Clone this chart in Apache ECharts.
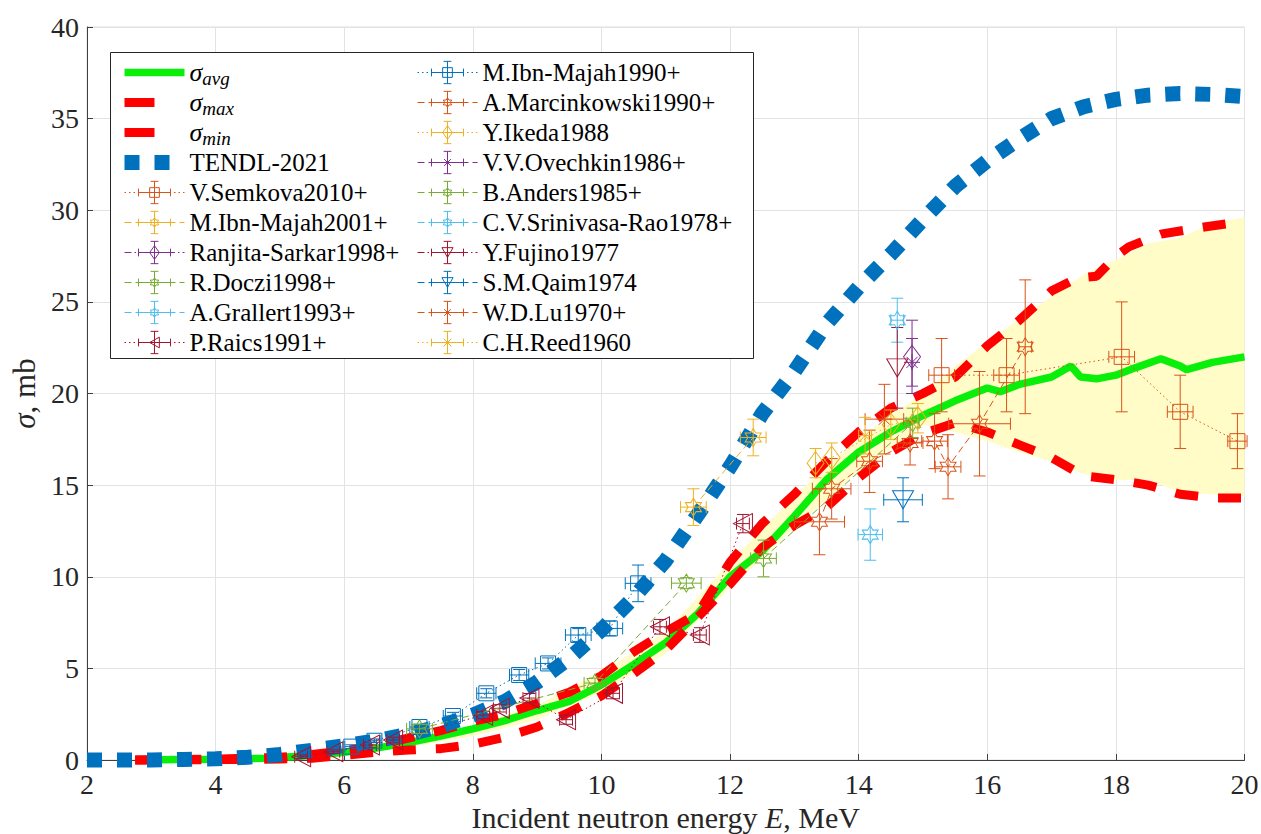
<!DOCTYPE html>
<html>
<head>
<meta charset="utf-8">
<script src="https://cdn.jsdelivr.net/npm/echarts@6/dist/echarts.min.js"></script>
<style>
  html, body { margin: 0; padding: 0; background: #fff; }
  #chart { width: 1261px; height: 834px; }
</style>
</head>
<body>
<div id="chart"></div>
<script>
// ---- evaluated curves (E in MeV, sigma in mb) ----
const avgE = [2.75, 3, 4, 4.8, 5.5, 6, 6.5, 7, 7.5, 8, 8.5, 9, 9.5, 10, 10.5, 11, 11.5, 12, 12.5, 13, 13.5, 14, 14.5, 15, 15.5, 16, 16.2, 16.5, 17, 17.3, 17.45, 17.7, 18, 18.3, 18.7, 19, 19.1, 19.5, 20];
const avgS = [0, 0.01, 0.04, 0.1, 0.25, 0.42, 0.65, 0.95, 1.3, 1.7, 2.15, 2.7, 3.2, 4.1, 5.2, 6.4, 8.0, 10.0, 11.4, 13.3, 15.3, 16.8, 17.9, 18.8, 19.6, 20.3, 20.1, 20.5, 20.9, 21.5, 20.9, 20.8, 21.0, 21.4, 21.9, 21.5, 21.3, 21.7, 22.0];

const maxE = [2.75, 4, 5, 5.5, 6, 6.5, 7, 7.5, 8, 8.5, 9, 9.5, 10, 10.5, 11, 11.5, 12, 12.5, 13, 13.5, 14, 14.5, 15, 15.5, 16, 16.5, 17, 17.4, 17.7, 18, 18.2, 18.7, 19.4, 20];
const maxS = [0, 0.05, 0.15, 0.3, 0.5, 0.8, 1.2, 1.6, 2.1, 2.5, 3.1, 3.7, 4.6, 5.9, 7.0, 8.0, 10.8, 12.9, 14.5, 16.3, 17.9, 19.2, 20.0, 20.9, 22.6, 24.0, 25.6, 26.3, 26.4, 27.5, 28.0, 28.7, 29.1, 29.4];

const minE = [2.75, 4, 5, 5.5, 6, 6.5, 7, 7.5, 8, 8.5, 9, 9.5, 10, 10.5, 11, 11.5, 12, 12.5, 13, 13.5, 14, 14.5, 15, 15.5, 16, 16.5, 17, 17.5, 18, 18.5, 19, 19.5, 20];
const minS = [0, 0.02, 0.05, 0.1, 0.25, 0.42, 0.55, 0.62, 0.85, 1.25, 1.8, 2.6, 3.5, 4.7, 6.0, 7.8, 9.6, 11.6, 12.8, 13.8, 15.4, 16.8, 17.8, 18.4, 17.9, 17.2, 16.5, 15.5, 15.3, 15.0, 14.5, 14.3, 14.3];

const bandE = [2.75, 4, 5, 6, 7, 8, 9, 10, 11, 12, 12.5, 13, 13.5, 14, 14.5, 15, 15.5, 16, 16.5, 17, 17.5, 18, 18.5, 19, 19.5, 20];
const bandLo = [0, 0.02, 0.05, 0.3, 0.7, 1.3, 2.2, 3.7, 5.8, 9.4, 11.0, 12.7, 14.2, 15.8, 17.0, 18.3, 17.9, 17.4, 16.8, 16.3, 15.6, 15.3, 15.3, 14.6, 14.5, 14.4];
const bandHi = [0, 0.06, 0.2, 0.55, 1.1, 1.9, 3.0, 4.8, 7.0, 10.8, 12.6, 14.4, 16.0, 17.5, 18.8, 20.0, 21.5, 22.8, 24.1, 25.3, 26.5, 27.3, 28.2, 28.5, 29.3, 29.6];

const tendlE = [2, 2.5, 3, 3.5, 4, 4.5, 5, 5.5, 6, 6.5, 7, 7.5, 8, 8.5, 9, 9.5, 10, 10.5, 11, 11.5, 12, 12.5, 13, 13.5, 14, 14.5, 15, 15.5, 16, 16.5, 17, 17.5, 18, 18.5, 19, 19.5, 20];
const tendlS = [0, 0, 0, 0.03, 0.07, 0.15, 0.3, 0.53, 0.78, 1.05, 1.4, 1.85, 2.45, 3.2, 4.25, 5.55, 7.1, 8.85, 10.9, 13.4, 16.0, 18.9, 21.2, 23.8, 25.8, 27.6, 29.5, 31.3, 32.7, 33.9, 35.0, 35.65, 36.05, 36.28, 36.37, 36.32, 36.2];

// ---- measurements: [E, sigma, dE, dSigma] ----
const semkova = [[15.29, 21.0, 0.2, 2.0], [16.3, 21.0, 0.2, 2.0], [18.09, 22.0, 0.2, 3.0], [19.0, 19.0, 0.2, 2.0], [19.89, 17.4, 0.15, 1.5]];
const ibnMajah2001 = [[11.43, 13.8, 0.2, 1.0], [12.36, 17.6, 0.2, 1.0]];
const ranjita = [[14.83, 22.0, 0, 2.0]];
const doczi = [[12.52, 11.0, 0.2, 1.0], [14.84, 18.4, 0.1, 0.8]];
const grallert = [[14.6, 24.0, 0.1, 1.2]];
const raics = [[5.33, 0.18, 0.1, 0.1], [5.83, 0.45, 0.1, 0.1], [6.4, 0.82, 0.1, 0.15], [6.76, 1.09, 0.1, 0.15], [8.16, 2.45, 0.1, 0.2], [8.42, 2.82, 0.1, 0.2], [8.88, 3.38, 0.1, 0.25], [9.45, 2.2, 0.1, 0.25], [10.18, 3.64, 0.1, 0.3], [10.91, 7.27, 0.1, 0.4], [11.53, 6.82, 0.1, 0.4], [12.2, 12.9, 0.1, 0.5]];
const ibnMajah1990 = [[6.11, 0.73, 0.1, 0.1], [6.47, 1.05, 0.1, 0.1], [7.17, 1.8, 0.15, 0.15], [7.69, 2.4, 0.15, 0.2], [8.21, 3.64, 0.15, 0.25], [8.72, 4.64, 0.15, 0.3], [9.17, 5.27, 0.2, 0.3], [9.64, 6.82, 0.2, 0.35], [10.13, 7.18, 0.2, 0.4], [10.57, 9.64, 0.2, 1.0]];
const marcinkowski = [[13.39, 13.0, 0.39, 1.8], [13.58, 14.8, 0.3, 1.65], [14.17, 16.3, 0.2, 1.7], [14.8, 17.3, 0.2, 1.2], [15.18, 17.4, 0.2, 1.5], [15.39, 16.0, 0.2, 1.75], [15.88, 18.35, 0.48, 2.85], [16.59, 22.55, 0.1, 3.65]];
const ikeda = [[13.33, 16.2, 0, 0.8], [13.58, 16.5, 0, 0.8], [14.5, 18.3, 0, 0.8], [14.92, 18.65, 0, 0.8]];
const ovechkin = [[14.83, 21.7, 0, 1.3]];
const anders = [[7.17, 1.7, 0.2, 0.25], [9.9, 4.2, 0.17, 0.27], [11.32, 9.65, 0.23, 0.3]];
const srinivasa = [[14.18, 12.3, 0.19, 1.4]];
const fujino = [[14.6, 21.4, 0, 2.2]];
const qaim = [[14.69, 14.2, 0.3, 1.2]];
const lu = [[14.4, 18.6, 0.3, 1.9]];
const reed = [[14.1, 17.7, 0.1, 1.0]];

const FONT = 'Liberation Serif';
const C = { blue: '#0072BD', orange: '#D95319', yellow: '#EDB120', purple: '#7E2F8E', green: '#77AC30', cyan: '#4DBEEE', wine: '#A2142F' };
const DOT = [1.5, 3], DASH = [7, 4], DASHDOT = [7, 3, 1.5, 3];
const NONE = 'rgba(0,0,0,0)';

// marker outlines in unit coordinates
const MARKS = {
  square:   { size: [15, 15], polys: [{ c: 1, p: [[-1, -1], [1, -1], [1, 1], [-1, 1]] }] },
  diamond:  { size: [17, 23], polys: [{ c: 1, p: [[0, -1.4], [1, 0], [0, 1.4], [-1, 0]] }] },
  hexagram: { size: [16, 18], polys: [{ c: 1, p: [[0, -1], [0.289, -0.5], [0.866, -0.5], [0.577, 0], [0.866, 0.5], [0.289, 0.5], [0, 1], [-0.289, 0.5], [-0.866, 0.5], [-0.577, 0], [-0.866, -0.5], [-0.289, -0.5]] }] },
  triLeft:  { size: [19, 20], polys: [{ c: 1, p: [[-1, 0], [1, -1.1], [1, 1.1]] }] },
  triDown:  { size: [21, 18], polys: [{ c: 1, p: [[-1.15, -1], [1.15, -1], [0, 1]] }] },
  star:     { size: [16, 16], polys: [{ p: [[-1, 0], [1, 0]] }, { p: [[0, -1], [0, 1]] }, { p: [[-0.7, -0.7], [0.7, 0.7]] }, { p: [[-0.7, 0.7], [0.7, -0.7]] }] },
  cross:    { size: [12, 12], polys: [{ p: [[-0.8, -0.8], [0.8, 0.8]] }, { p: [[-0.8, 0.8], [0.8, -0.8]] }] }
};

function polyPath(polys, s) {
  return polys.map(function (q) {
    return q.p.map(function (pt, i) { return (i ? 'L' : 'M') + (pt[0] * s).toFixed(2) + ',' + (pt[1] * s).toFixed(2); }).join('') + (q.c ? 'Z' : '');
  }).join('');
}
function markerSymbol(m) { return 'path://' + polyPath(MARKS[m].polys, 10); }
// legend glyph: error-bar cross + marker, two bare moves keep the box square
function legendSymbol(m) {
  const bars = 'M-16.5,0L16.5,0M-16.5,-4L-16.5,4M16.5,-4L16.5,4M0,-11.5L0,11.5M-4,-11.5L4,-11.5M-4,11.5L4,11.5';
  return 'path://' + bars + polyPath(MARKS[m].polys, 5) + 'M-16.5,-16.5M16.5,16.5';
}

const sets = [
  { name: 'V.Semkova2010+', data: semkova, color: C.orange, mark: 'square', dash: DOT },
  { name: 'M.Ibn-Majah2001+', data: ibnMajah2001, color: C.yellow, mark: 'hexagram', dash: DASH },
  { name: 'Ranjita-Sarkar1998+', data: ranjita, color: C.purple, mark: 'diamond', dash: DASHDOT },
  { name: 'R.Doczi1998+', data: doczi, color: C.green, mark: 'hexagram', dash: DASH },
  { name: 'A.Grallert1993+', data: grallert, color: C.cyan, mark: 'hexagram', dash: DASH },
  { name: 'P.Raics1991+', data: raics, color: C.wine, mark: 'triLeft', dash: DOT },
  { name: 'M.Ibn-Majah1990+', data: ibnMajah1990, color: C.blue, mark: 'square', dash: DOT },
  { name: 'A.Marcinkowski1990+', data: marcinkowski, color: C.orange, mark: 'hexagram', dash: DASH },
  { name: 'Y.Ikeda1988', data: ikeda, color: C.yellow, mark: 'diamond', dash: DOT },
  { name: 'V.V.Ovechkin1986+', data: ovechkin, color: C.purple, mark: 'star', dash: DASH },
  { name: 'B.Anders1985+', data: anders, color: C.green, mark: 'hexagram', dash: DASH },
  { name: 'C.V.Srinivasa-Rao1978+', data: srinivasa, color: C.cyan, mark: 'hexagram', dash: DASH },
  { name: 'Y.Fujino1977', data: fujino, color: C.wine, mark: 'triDown', dash: DASHDOT },
  { name: 'S.M.Qaim1974', data: qaim, color: C.blue, mark: 'triDown', dash: DASH },
  { name: 'W.D.Lu1970+', data: lu, color: C.orange, mark: 'star', dash: DASH },
  { name: 'C.H.Reed1960', data: reed, color: C.yellow, mark: 'cross', dash: DOT }
];

const zip = (xs, ys) => xs.map((x, i) => [x, ys[i]]);
const hiddenItem = { color: NONE, borderColor: NONE, borderWidth: 0 };
const RED_DASH = [23, 20];

const series = [];
// uncertainty band
series.push({
  type: 'custom', name: 'band', z: 1, silent: true, clip: true,
  data: [[bandE[0], bandLo[0]]], encode: { x: 0, y: 1 },
  renderItem: function (params, api) {
    const pts = [];
    bandE.forEach(function (e, i) { pts.push(api.coord([e, bandHi[i]])); });
    for (let i = bandE.length - 1; i >= 0; i--) pts.push(api.coord([bandE[i], bandLo[i]]));
    return { type: 'polygon', shape: { points: pts }, style: { fill: '#FFFCC8' } };
  }
});
series.push({ type: 'line', name: 'σavg', data: zip(avgE, avgS), symbol: 'none', z: 2, clip: false, silent: true,
  itemStyle: hiddenItem, lineStyle: { color: '#0AEF0A', width: 7.5, cap: 'butt' } });
series.push({ type: 'line', name: 'σmax', data: zip(maxE, maxS), symbol: 'none', z: 3, clip: false, silent: true,
  itemStyle: hiddenItem, lineStyle: { color: '#FF0000', width: 9, type: RED_DASH, cap: 'butt' } });
series.push({ type: 'line', name: 'σmin', data: zip(minE, minS), symbol: 'none', z: 3, clip: false, silent: true,
  itemStyle: hiddenItem, lineStyle: { color: '#FF0000', width: 9, type: RED_DASH, cap: 'butt' } });
series.push({ type: 'line', name: 'TENDL-2021', data: zip(tendlE, tendlS), symbol: 'none', z: 4, clip: false, silent: true,
  itemStyle: hiddenItem, lineStyle: { color: '#0072BD', width: 15, type: [15, 15], cap: 'butt' } });

sets.forEach(function (s) {
  const lineStyle = { color: s.color, width: 1, type: s.dash };
  const itemStyle = { color: NONE, borderColor: s.color, borderWidth: 1 };
  // legend carrier (no data): gives the legend its error-bar glyph
  series.push({ type: 'line', name: s.name, data: [], symbol: legendSymbol(s.mark), lineStyle: lineStyle, itemStyle: itemStyle, silent: true });
  // error bars
  series.push({
    type: 'custom', name: s.name + ' err', z: 5, silent: true, clip: false,
    data: s.data, encode: { x: 0, y: 1 },
    renderItem: function (params, api) {
      const x = api.value(0), y = api.value(1), dx = api.value(2), dy = api.value(3);
      const kids = [];
      const st = { stroke: s.color, lineWidth: 1 };
      const seg = function (a, b) { kids.push({ type: 'line', shape: { x1: a[0], y1: a[1], x2: b[0], y2: b[1] }, style: st }); };
      if (dy > 0) {
        const t = api.coord([x, y + dy]), b = api.coord([x, y - dy]);
        seg(t, b); seg([t[0] - 6, t[1]], [t[0] + 6, t[1]]); seg([b[0] - 6, b[1]], [b[0] + 6, b[1]]);
      }
      if (dx > 0) {
        const l = api.coord([x - dx, y]), r = api.coord([x + dx, y]);
        seg(l, r); seg([l[0], l[1] - 6], [l[0], l[1] + 6]); seg([r[0], r[1] - 6], [r[0], r[1] + 6]);
      }
      return { type: 'group', children: kids };
    }
  });
  // markers + connecting line
  series.push({
    type: 'line', name: s.name, z: 6, clip: false, silent: true,
    data: s.data.map(function (d) { return [d[0], d[1]]; }),
    symbol: markerSymbol(s.mark), symbolSize: MARKS[s.mark].size, showSymbol: true, showAllSymbol: true,
    lineStyle: lineStyle, itemStyle: itemStyle
  });
});

const legendNames = ['σavg', 'σmax', 'σmin', 'TENDL-2021'].concat(sets.map(function (s) { return s.name; }));
const legendData = legendNames.map(function (n) {
  // one 30px dash only, as in the reference key
  return (n === 'σmax' || n === 'σmin') ? { name: n, lineStyle: { type: [30, 40] } } : { name: n };
});

function legendOpt(left, data) {
  return {
    orient: 'vertical', left: left, top: 56, padding: 0, z: 11,
    itemWidth: 60, itemHeight: 40, itemGap: -3, selectedMode: false,
    data: data,
    lineStyle: { width: 'inherit' },
    itemStyle: { borderWidth: 1 },
    formatter: function (name) { return name.charAt(0) === 'σ' ? '{g|σ}{s|' + name.slice(1) + '}' : '{t|' + name + '}'; },
    textStyle: {
      fontFamily: FONT, fontSize: 25, color: '#000',
      rich: {
        t: { fontFamily: FONT, fontSize: 25, color: '#000' },
        g: { fontFamily: FONT, fontSize: 26, fontStyle: 'italic', color: '#000' },
        s: { fontFamily: FONT, fontSize: 19, fontStyle: 'italic', color: '#000', padding: [12, 0, 0, 0] }
      }
    }
  };
}

const axisCommon = {
  type: 'value',
  axisLine: { show: true, onZero: false, lineStyle: { color: '#404040', width: 1 } },
  axisTick: { show: true, inside: true, length: 6, lineStyle: { color: '#404040' } },
  splitLine: { show: true, lineStyle: { color: '#e3e3e3', width: 1 } },
  nameLocation: 'middle'
};

const chart = echarts.init(document.getElementById('chart'), null, { renderer: 'svg' });
chart.setOption({
  animation: false,
  backgroundColor: '#fff',
  grid: { left: 87, right: 16.5, top: 27, bottom: 74, show: true, borderColor: '#dcdcdc', borderWidth: 1, outerBoundsMode: 'none' },
  xAxis: Object.assign({}, axisCommon, {
    min: 2, max: 20, interval: 2,
    axisLabel: { margin: 10, color: '#262626', fontSize: 28, fontFamily: FONT },
    name: 'Incident neutron energy {i|E}, MeV', nameGap: 37,
    nameTextStyle: { fontFamily: FONT, fontSize: 30, color: '#262626', rich: { i: { fontFamily: FONT, fontSize: 30, fontStyle: 'italic', color: '#262626' } } }
  }),
  yAxis: Object.assign({}, axisCommon, {
    min: 0, max: 40, interval: 5,
    axisLabel: { margin: 8, color: '#262626', fontSize: 28, fontFamily: FONT },
    name: '{i|σ}, mb', nameGap: 45,
    nameTextStyle: { fontFamily: FONT, fontSize: 31, color: '#262626', rich: { i: { fontFamily: FONT, fontSize: 31, fontStyle: 'italic', color: '#262626' } } }
  }),
  legend: [legendOpt(117, legendData.slice(0, 10)), legendOpt(417, legendData.slice(10))],
  graphic: [{
    type: 'rect', z: 10, silent: true,
    shape: { x: 110.5, y: 52.5, width: 643, height: 306 },
    style: { fill: '#fff', stroke: '#262626', lineWidth: 1 }
  }],
  series: series
});
</script>
</body>
</html>
